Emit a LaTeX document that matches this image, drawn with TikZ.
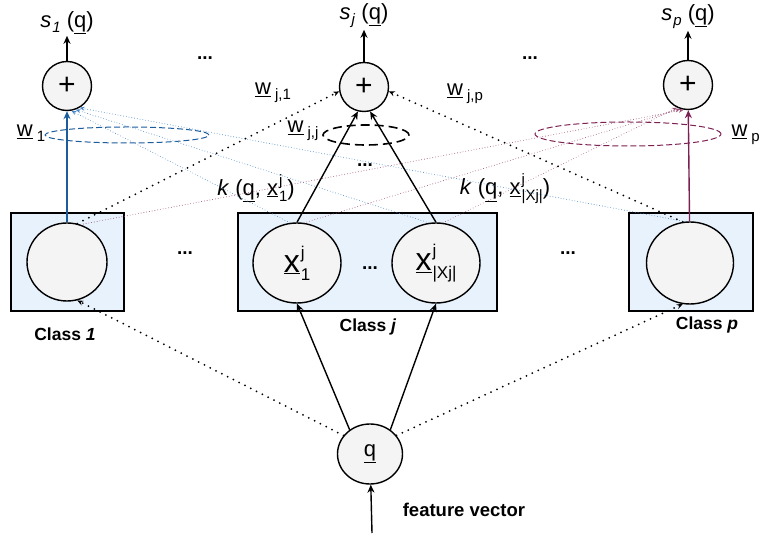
\documentclass[tikz,border=0pt]{standalone}
\usepackage{fontspec}
\setmainfont{Liberation Sans}
\usetikzlibrary{arrows.meta,positioning,shapes.geometric}
\definecolor{boxfill}{HTML}{E8F2FC}
\definecolor{nodefill}{HTML}{F4F4F4}
\definecolor{wblue}{HTML}{1B5C9C}
\definecolor{wbluelt}{HTML}{4A88C8}
\definecolor{wpurp}{HTML}{7C1F52}
\definecolor{wpurplt}{HTML}{9C5078}
\newcommand{\ul}[1]{\underline{#1}}
\newcommand{\lowtxt}[2]{\raisebox{-5pt}{\fontsize{#1}{#1}\selectfont #2}}
% x with superscript j (raised by #2) and subscript #4 (lowered by #3)
\newcommand{\protox}[4]{\ul{x}\hspace{1pt}%
  \rlap{\raisebox{#2}{\fontsize{#1}{#1}\selectfont j}}%
  \raisebox{-#3}{\fontsize{#1}{#1}\selectfont #4}}
\newcommand{\wlab}[1]{\ul{w}\hspace{4pt}\lowtxt{15}{#1}}
\newcommand{\slab}[1]{\textit{s}\hspace{1pt}\lowtxt{15}{\textit{#1}}\ (\underline{q})}

\begin{document}
\begin{tikzpicture}[x=1pt,y=1pt,
 >={Stealth[length=8pt,width=7pt]},
 every node/.style={font=\fontsize{22}{26}\selectfont},
 plusnode/.style={circle,draw=black,line width=1.4pt,fill=nodefill,
   minimum size=49pt,inner sep=0pt,font=\fontsize{30}{30}\selectfont},
 classbox/.style={rectangle,draw=black,line width=1.4pt,fill=boxfill,
   inner sep=0pt,minimum height=98pt},
 proto/.style={ellipse,draw=black,line width=1.4pt,fill=nodefill,
   inner sep=0pt,font=\fontsize{32}{32}\selectfont},
 classlabel/.style={font=\fontsize{17.5}{20}\selectfont\bfseries},
 dotsnode/.style={font=\fontsize{19}{19}\selectfont\bfseries,inner sep=1pt},
 wring/.style={ellipse,line width=1pt,inner sep=0pt,
   dash pattern=on 6pt off 3pt},
 main/.style={line width=1.4pt},
 kdot/.style={line width=2pt,dash pattern=on 0pt off 6.5pt,line cap=round,
   -{Stealth[length=6pt,width=5pt]}},
 cdot/.style={line width=0.9pt,dash pattern=on 0pt off 2.8pt,line cap=round,
   -{Stealth[length=5pt,width=4pt]}}]
 \useasboundingbox (0,0) rectangle (760,535);

 % summing nodes and outputs
 \node[plusnode] (plusA) at (67,449) {+};
 \node[plusnode] (plusJ) at (364,448) {+};
 \node[plusnode] (plusP) at (688,450) {+};
 \node[above=25pt of plusA,inner sep=2pt] (sA) {\slab{1}};
 \node[above=32pt of plusJ,inner sep=2pt] (sJ) {\slab{j}};
 \node[above=29pt of plusP,inner sep=2pt] (sP) {\slab{p}};
 \node[dotsnode] (dotsA) at (205,477) {...};
 \node[dotsnode] (dotsB) at (530,477) {...};

 % classes
 \node[classbox,minimum width=113pt] (boxA) at (67.5,273) {};
 \node[classbox,minimum width=259pt] (boxJ) at (367.5,273) {};
 \node[classbox,minimum width=124pt] (boxP) at (691,273) {};
 \node[proto,minimum width=80pt,minimum height=78pt] (xA) at (67,273) {};
 \node[proto,minimum width=88pt,minimum height=80pt] (xJa) at (297,272)
   {\protox{17}{14pt}{8pt}{1}};
 \node[proto,minimum width=88pt,minimum height=80pt] (xJb) at (436,272)
   {\protox{17}{14pt}{8pt}{|Xj|}};
 \node[proto,minimum width=87pt,minimum height=82pt] (xP) at (690,272) {};
 \node[dotsnode] (dotsJ) at (370,267) {...};
 \node[dotsnode] (dotsL) at (185,282) {...};
 \node[dotsnode] (dotsR) at (568,282) {...};
 \node[classlabel] (classA) at (65,201) {Class \textit{1}};
 \node[classlabel] (classJ) at (368,208) {Class \textit{j}};
 \node[classlabel] (classP) at (707,210) {Class \textit{p}};

 % query
 \node[proto,minimum width=65pt,minimum height=60pt,
   font=\fontsize{22}{22}\selectfont] (q) at (370,81) {\underline{q}};
 \node[classlabel,font=\fontsize{18.5}{20}\selectfont\bfseries] (feat)
   at (464,25) {feature vector};
 \coordinate (qin) at (372,2);

 % weight rings and labels
 \node[wring,draw=wblue,minimum width=164pt,minimum height=16pt] (ringA)
   at (127,400) {};
 \node[wring,draw=wpurp,minimum width=186pt,minimum height=24pt] (ringP)
   at (628,401) {};
 \node[wring,draw=black,line width=1.6pt,dash pattern=on 9pt off 5pt,
   minimum width=86pt,minimum height=20pt] (ringJ) at (366,400) {};
 \node[dotsnode] (dotsW) at (365,370) {...};
 \node (wA) at (31,402) {\wlab{1}};
 \node (wJ1) at (273,442) {\wlab{j,1}};
 \node (wJJ) at (303,404) {\wlab{j,j}};
 \node (wJP) at (465,441) {\wlab{j,p}};
 \node[anchor=west] (wP) at (728,400) {\wlab{p}};
 \node (kA) at (256,347) {\textit{k} (\underline{q}, \protox{15}{10pt}{6pt}{1})};
 \node (kB) at (505,346) {\textit{k} (\underline{q}, \protox{15}{10pt}{6pt}{|Xj|})};

 % connectors
 \draw[cdot,wbluelt] (xJa.100) -- (plusA.-80);
 \draw[cdot,wbluelt] (xJb.100) -- (plusA.-70);
 \draw[cdot,wbluelt] (xP.97) -- (plusA.-60);
 \draw[cdot,wpurplt] (xA.70) -- (plusP.-100);
 \draw[cdot,wpurplt] (xJa.80) -- (plusP.-108);
 \draw[cdot,wpurplt] (xJb.80) -- (plusP.-116);
 \draw[main,->] (plusA) -- (sA);
 \draw[main,->] (plusJ) -- (sJ);
 \draw[main,->] (plusP) -- (sP);
 \draw[main,wblue,->] (xA) -- (plusA);
 \draw[main,wpurp,->] (xP) -- (plusP);
 \draw[main,->] (xJa.north) -- (plusJ.-104);
 \draw[main,->] (xJb.north) -- (plusJ.-76);
 \draw[main,->] (q.130) -- (xJa.south);
 \draw[main,->] (q.50) -- (xJb.south);
 \draw[kdot] (q.145) -- (xA.-75);
 \draw[kdot] (q.35) -- (xP.-100);
 \draw[kdot] (xA.75) -- (plusJ.190);
 \draw[kdot] (xP.100) -- (plusJ.350);
 \draw[main,->] (qin) -- (q);
\end{tikzpicture}
\end{document}
